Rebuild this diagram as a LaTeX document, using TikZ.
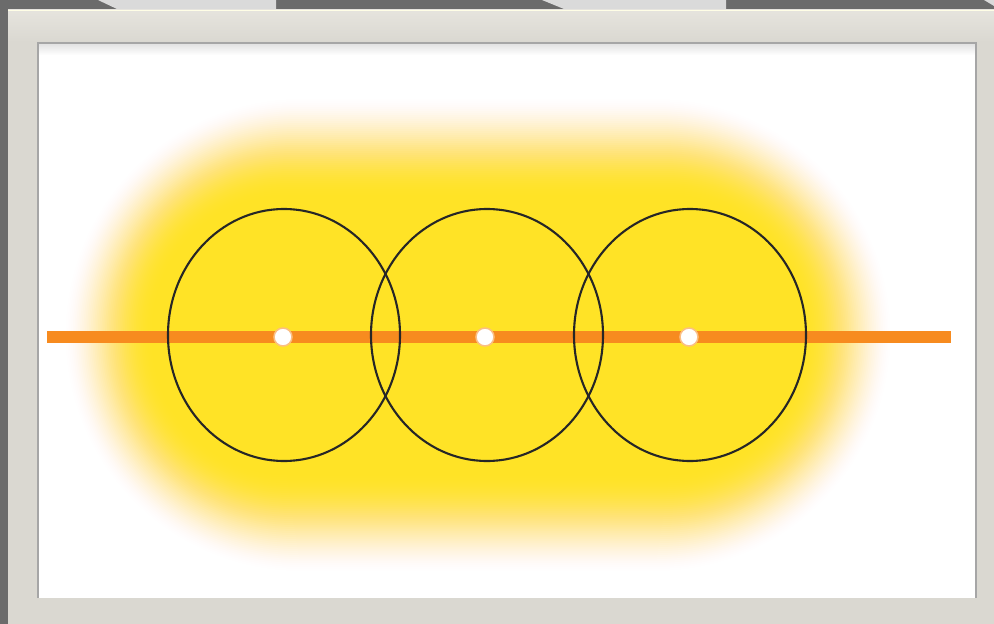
\documentclass[tikz,border=0pt]{standalone}
\definecolor{darkbg}{HTML}{6B6B6B}
\definecolor{tabgray}{HTML}{DADADA}
\definecolor{framegray}{HTML}{DAD8D1}
\definecolor{frametop}{HTML}{E6E4DE}
\definecolor{glowyellow}{HTML}{FFE31C}
\definecolor{lineorange}{HTML}{F78B1F}
\tikzset{
  ring/.style={draw=black!85, line width=2.1pt},
  hub/.style={fill=white, draw=lineorange!55, line width=1.5pt},
  axisline/.style={draw=lineorange, line width=12pt},
}
\begin{document}
\begin{tikzpicture}[x=1pt,y=-1pt]
\useasboundingbox (0,0) rectangle (994,624);
% background and tabs
\fill[darkbg] (0,0) rectangle (994,624);
\fill[tabgray] (98,0) -- (117,9) -- (276,9) -- (276,0) -- cycle;
\fill[tabgray] (542,0) -- (564,9) -- (726,9) -- (726,0) -- cycle;
\fill[tabgray] (984,0) -- (994,6) -- (994,0) -- cycle;
% frame
\fill[framegray] (8,9) rectangle (994,624);
\shade[top color=frametop, bottom color=framegray] (8,9) rectangle (994,42);
\draw[white!90!yellow, line width=1pt] (8,10) -- (994,10);
% inner white panel
\fill[white] (37,42) rectangle (977,598);
\shade[top color=black!12, bottom color=white] (38,43) rectangle (976,55);
\draw[black!35, line width=2pt] (38,598) -- (38,43) -- (976,43) -- (976,598);
% yellow glow: smoothstep alpha ramp built from stacked layers
\foreach \i in {1,...,50}{
  \pgfmathsetmacro\ta{\i/50}
  \pgfmathsetmacro\tb{(\i-1)/50}
  \pgfmathsetmacro\Aa{0.93*(3*\ta*\ta-2*\ta*\ta*\ta)}
  \pgfmathsetmacro\Ab{0.93*(3*\tb*\tb-2*\tb*\tb*\tb)}
  \pgfmathsetmacro\op{(\Aa-\Ab)/(1-\Ab)}
  \pgfmathsetmacro\rr{240-2.1*\i}
  \pgfmathsetmacro\xa{62+1.8*\i}
  \pgfmathsetmacro\ya{95+2.0*\i}
  \pgfmathsetmacro\xb{894-1.8*\i}
  \pgfmathsetmacro\yb{575-2.0*\i}
  \fill[glowyellow, fill opacity=\op, rounded corners=\rr pt] (\xa,\ya) rectangle (\xb,\yb);
}
% axis
\coordinate (L) at (47,337);
\coordinate (R) at (951,337);
\draw[axisline] (L) -- (R);
% circles
\coordinate (c1) at (284,335);
\coordinate (c2) at (487,335);
\coordinate (c3) at (690,335);
\draw[ring] (c1) ellipse [x radius=116pt, y radius=126pt];
\draw[ring] (c2) ellipse [x radius=116pt, y radius=126pt];
\draw[ring] (c3) ellipse [x radius=116pt, y radius=126pt];
% hubs
\coordinate (h1) at (283,337);
\coordinate (h2) at (485,337);
\coordinate (h3) at (689,337);
\foreach \h in {h1,h2,h3}{
  \path[hub] (\h) circle [radius=9pt];
}
\end{tikzpicture}
\end{document}
